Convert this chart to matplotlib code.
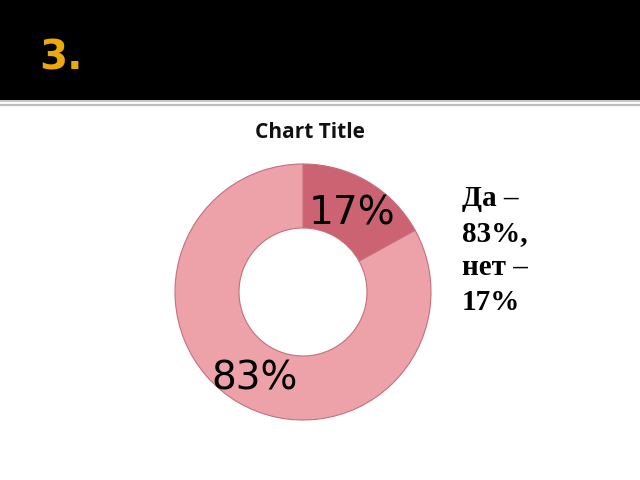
import matplotlib
matplotlib.use("Agg")
import matplotlib.pyplot as plt
from matplotlib.patches import Rectangle
from matplotlib.lines import Line2D

labels = ['нет', 'Да']
values = [17, 83]
colors = ['#CC6372', '#EDA1A8']
heading = '3.'
chart_title = 'Chart Title'
note = 'Да –\n83%,\nнет –\n17%'

W, H = 640, 480
fig = plt.figure(figsize=(6.4, 4.8), dpi=100)
fig.patch.set_facecolor('white')

# header bar
fig.add_artist(Rectangle((0, 1 - 100 / H), 1, 100 / H, transform=fig.transFigure,
                         facecolor='black', edgecolor='none'))
fig.add_artist(Line2D([0, 1], [1 - 101 / H] * 2, transform=fig.transFigure,
                      color='#BDBDBD', linewidth=1.2))
fig.add_artist(Line2D([0, 1], [1 - 104.5 / H] * 2, transform=fig.transFigure,
                      color='#BDBDBD', linewidth=1.6))
fig.text(39 / W, 1 - 58 / H, heading, color='#EBAA0A', fontsize=29,
         fontweight='bold', family='DejaVu Sans', ha='left', va='center')

fig.text(310 / W, 1 - 132 / H, chart_title, fontsize=15, fontweight='bold',
         family='Open Sans', ha='center', va='center', color='#111111')

cx, cy, r = 303, 292, 128
ax = fig.add_axes([(cx - r) / W, (H - cy - r) / H, 2 * r / W, 2 * r / H])
wedges, texts, autotexts = ax.pie(
    values, colors=colors, startangle=90, counterclock=False, radius=1,
    autopct='%1.0f%%', pctdistance=0.75,
    wedgeprops=dict(width=0.5, edgecolor='#C4707C', linewidth=0.8),
    textprops=dict(fontsize=28, color='black', family='DejaVu Sans'))
for t in autotexts:
    x, y = t.get_position()
    t.set_position((x, y - 0.03))
ax.set_xlim(-1, 1)
ax.set_ylim(-1, 1)
ax.set_aspect('equal')
ax.axis('off')

fig.text(462 / W, 1 - 185 / H, note, fontsize=21, fontweight='bold',
         family='Liberation Serif', ha='left', va='top', linespacing=1.36,
         color='black')

fig.savefig('out.png', dpi=100)
